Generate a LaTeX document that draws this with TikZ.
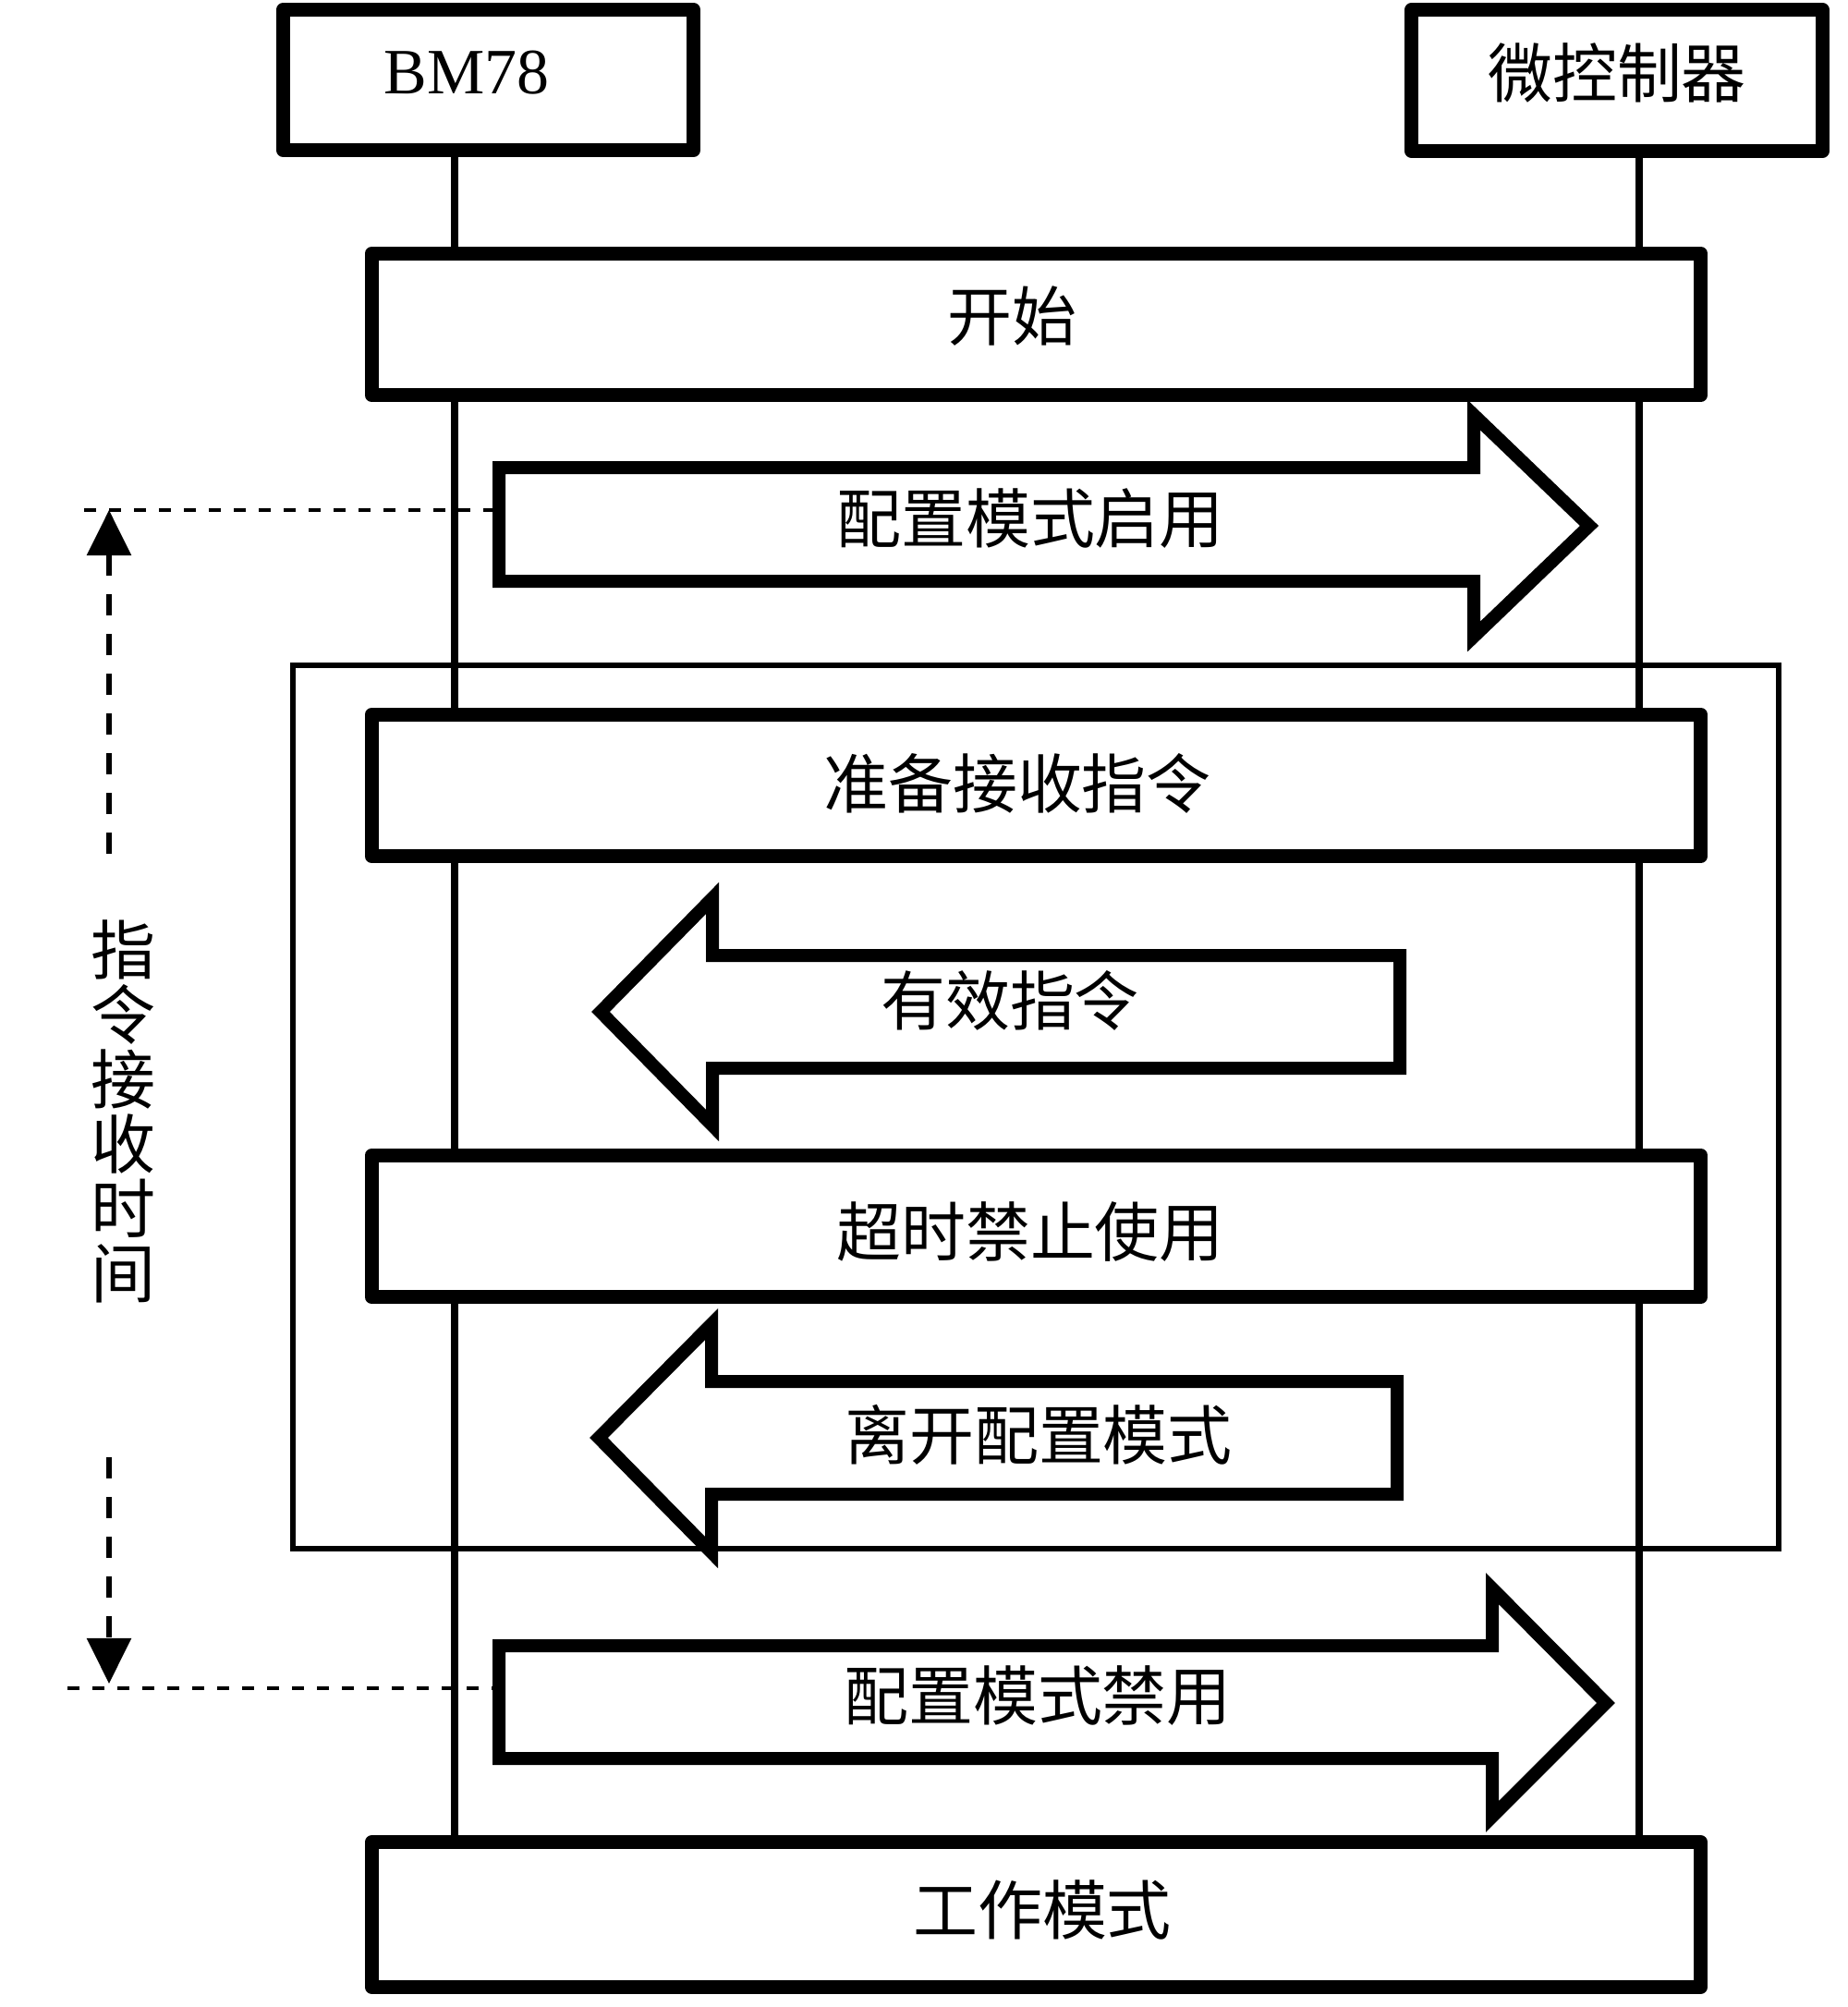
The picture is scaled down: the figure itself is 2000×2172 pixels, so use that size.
\documentclass[tikz,border=0pt]{standalone}
\usepackage{fontspec}
\setmainfont{Liberation Serif}
\newfontfamily\cjk{Noto Sans CJK SC}
\usetikzlibrary{arrows.meta}
\begin{document}
\begin{tikzpicture}[x=0.01cm,y=-0.01cm,
  box/.style={draw,line width=0.15cm,fill=white,line join=round,inner sep=0pt},
  lbl/.style={font=\cjk\fontsize{19.9pt}{24pt}\selectfont,inner sep=0pt},
  latin/.style={font=\fontsize{19.9pt}{24pt}\selectfont,inner sep=0pt},
  vlbl/.style={font=\cjk\fontsize{19.9pt}{19.9pt}\selectfont,inner sep=0pt,align=center},
  blockarrow/.style={draw,line width=0.14cm,fill=white,line join=miter,miter limit=10},
  life/.style={line width=0.08cm},
  frame/.style={line width=0.06cm},
  guide/.style={line width=0.04cm,dash pattern=on 0.13cm off 0.14cm},
  span/.style={line width=0.06cm,dash pattern=on 0.23cm off 0.2cm,-{Triangle[length=0.49cm,width=0.47cm]}}
]
\useasboundingbox (0,0) rectangle (2000,2172);

% lifeline end points
\coordinate (l1top) at (492,162);
\coordinate (l1bot) at (492,1994);
\coordinate (l2top) at (1774,162);
\coordinate (l2bot) at (1774,1994);
\draw[life] (l1top) -- (l1bot);
\draw[life] (l2top) -- (l2bot);

% loop frame
\coordinate (fr1) at (317,720);
\coordinate (fr2) at (1925,1676);
\draw[frame] (fr1) rectangle (fr2);

% boxes
\node[box,minimum width=4.44cm,minimum height=1.52cm] (bm) at (528.5,86.5) {};
\node[box,minimum width=4.44cm,minimum height=1.53cm] (mcu) at (1750,87) {};
\node[box,minimum width=14.38cm,minimum height=1.53cm] (start) at (1121.5,351) {};
\node[box,minimum width=14.38cm,minimum height=1.53cm] (ready) at (1121.5,850) {};
\node[box,minimum width=14.38cm,minimum height=1.53cm] (timeout) at (1121.5,1327) {};
\node[box,minimum width=14.38cm,minimum height=1.56cm] (work) at (1121.5,2072) {};

% horizontal guides
\coordinate (g1a) at (91,552);
\coordinate (g1b) at (540,552);
\coordinate (g2a) at (73,1827);
\coordinate (g2b) at (540,1827);
\draw[guide] (g1a) -- (g1b);
\draw[guide] (g2a) -- (g2b);

% block arrows
\draw[blockarrow] (540,506) -- (1595,506) -- (1595,449) -- (1720,569) -- (1595,689) -- (1595,629) -- (540,629) -- cycle;
\draw[blockarrow] (1515,1034) -- (771,1034) -- (771,972) -- (650,1095) -- (771,1218) -- (771,1156) -- (1515,1156) -- cycle;
\draw[blockarrow] (1512,1495) -- (770,1495) -- (770,1433) -- (648,1556) -- (770,1680) -- (770,1617) -- (1512,1617) -- cycle;
\draw[blockarrow] (540,1781) -- (1615,1781) -- (1615,1719) -- (1738,1843) -- (1615,1966) -- (1615,1903) -- (540,1903) -- cycle;

% vertical span arrows
\coordinate (s1a) at (118,924);
\coordinate (s1b) at (118,552);
\coordinate (s2a) at (118,1577);
\coordinate (s2b) at (118,1822);
\draw[span] (s1a) -- (s1b);
\draw[span] (s2a) -- (s2b);

% labels
\node[latin] (tbm) at (505,79) {BM78};
\node[lbl] (tmcu) at (1750,79) {微控制器};
\node[lbl] (tstart) at (1095,342) {开始};
\node[lbl] (tenable) at (1115,561) {配置模式启用};
\node[lbl] (tready) at (1101,848) {准备接收指令};
\node[lbl] (tvalid) at (1093,1083) {有效指令};
\node[lbl] (ttimeout) at (1115,1333) {超时禁止使用};
\node[lbl] (tleave) at (1124,1553) {离开配置模式};
\node[lbl] (tdisable) at (1123,1835) {配置模式禁用};
\node[lbl] (twork) at (1128,2067) {工作模式};
\node[vlbl] (tspan) at (133,1203) {指\\令\\接\\收\\时\\间};
\end{tikzpicture}
\end{document}
